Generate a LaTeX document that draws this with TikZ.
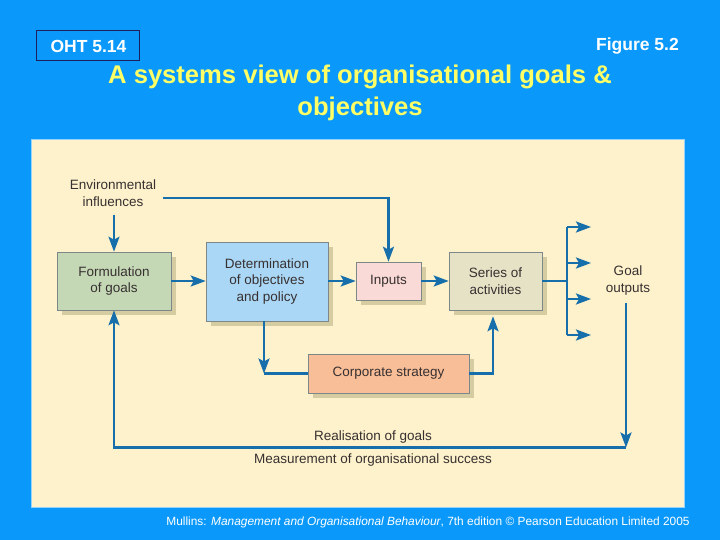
\documentclass[tikz,border=0pt]{standalone}
\usepackage{fontspec}
\setmainfont{Liberation Sans}
\usetikzlibrary{arrows.meta,shadows}
\definecolor{bgblue}{RGB}{10,153,250}
\definecolor{panel}{RGB}{254,242,204}
\definecolor{paneledge}{RGB}{150,210,250}
\definecolor{formc}{RGB}{197,216,182}
\definecolor{detc}{RGB}{170,215,245}
\definecolor{inpc}{RGB}{250,218,214}
\definecolor{serc}{RGB}{230,226,198}
\definecolor{corpc}{RGB}{248,190,152}
\definecolor{shadc}{RGB}{214,204,162}
\definecolor{edgec}{RGB}{125,135,135}
\definecolor{arrc}{RGB}{22,110,170}
\definecolor{txtc}{RGB}{55,48,48}
\definecolor{titley}{RGB}{255,255,102}
\definecolor{navy}{RGB}{30,30,90}
\tikzset{
  boxnode/.style={draw=edgec, line width=0.6pt, inner sep=0pt, align=center,
    text=txtc, font=\fontsize{13.5}{16.5}\selectfont,
    drop shadow={shadow xshift=5pt, shadow yshift=-5pt, fill=shadc, opacity=1}},
  lbl/.style={inner sep=0pt, align=center, text=txtc, font=\fontsize{13.5}{17}\selectfont},
  conn/.style={draw=arrc, line width=2.4pt},
  arr/.style={conn, -{Stealth[length=15pt,width=11pt,inset=3pt]}}
}
\begin{document}
\begin{tikzpicture}[x=1pt,y=-1pt]
\useasboundingbox (0,0) rectangle (720,540);
\fill[bgblue] (0,0) rectangle (720,540);
% header
\draw[navy, line width=1pt] (36,31) rectangle (139,61);
\node[inner sep=0pt, text=white, font=\fontsize{17.5}{20}\selectfont\bfseries] (oht) at (88.5,46.5) {OHT 5.14};
\node[inner sep=0pt, anchor=east, text=white, font=\fontsize{17.5}{20}\selectfont\bfseries] (fig) at (679,46.5) {Figure 5.2};
\node[inner sep=0pt, align=center, text=titley, font=\fontsize{25.6}{31.5}\selectfont\bfseries] (title) at (360,93) {A systems view of organisational goals \&\\objectives};
% panel
\draw[paneledge, fill=panel, line width=1pt] (31,140) rectangle (684,507);
% boxes
\node[boxnode, fill=formc, minimum width=114pt, minimum height=58pt] (form) at (114,281) {Formulation\\of goals};
\node[boxnode, fill=detc, minimum width=122pt, minimum height=79pt] (det) at (267,281.5) {Determination\\of objectives\\and policy};
\node[boxnode, fill=inpc, minimum width=65pt, minimum height=38pt] (inp) at (388.5,281) {Inputs};
\node[boxnode, fill=serc, minimum width=93pt, minimum height=58pt] (ser) at (495.5,281) {Series of\\activities};
\node[boxnode, fill=corpc, minimum width=161pt, minimum height=39pt] (corp) at (388.5,373.5) {Corporate strategy};
% labels
\node[lbl] (env) at (113,193) {Environmental\\influences};
\node[lbl] (goal) at (628,280.5) {Goal\\outputs};
\node[lbl] (real) at (373,437) {Realisation of goals};
\node[lbl] (meas) at (373,460) {Measurement of organisational success};
% coordinates
\coordinate (envout) at (163,198);
\coordinate (br) at (567,281);
\coordinate (b1) at (567,227); \coordinate (o1) at (591,227);
\coordinate (b2) at (567,263); \coordinate (o2) at (591,263);
\coordinate (b3) at (567,299); \coordinate (o3) at (591,299);
\coordinate (b4) at (567,335); \coordinate (o4) at (591,335);
\coordinate (gtop) at (626,303);
\coordinate (corner) at (626,447.5);
\coordinate (c1) at (264,373.5);
\coordinate (c2) at (493,373.5);
% connectors
\draw[arr] ([yshift=-8pt]env.south -| form.north) -- (form.north);
\draw[arr] (envout) -| (inp.north);
\draw[arr] (form.east) -- (form.east -| det.west);
\draw[arr] (det.east |- inp.west) -- (inp.west);
\draw[arr] (inp.east) -- (ser.west);
\draw[conn] (ser.east) -- (br);
\draw[conn] (b1) -- (b4);
\draw[arr] (b1) -- (o1);
\draw[arr] (b2) -- (o2);
\draw[arr] (b3) -- (o3);
\draw[arr] (b4) -- (o4);
\draw[arr] (gtop) -- (corner);
\draw[arr] (corner) -| (form.south);
\draw[arr] (det.south -| c1) -- (c1);
\draw[conn] (c1) -- (corp.west);
\draw[arr] (corp.east) -- (c2) -- ([yshift=-6pt]ser.south -| c2);
% footer
\node[inner sep=0pt, text=white, font=\fontsize{11.9}{13}\selectfont] (foot) at (428,522) {Mullins: \textit{Management and Organisational Behaviour}, 7th edition © Pearson Education Limited 2005};
\end{tikzpicture}
\end{document}
